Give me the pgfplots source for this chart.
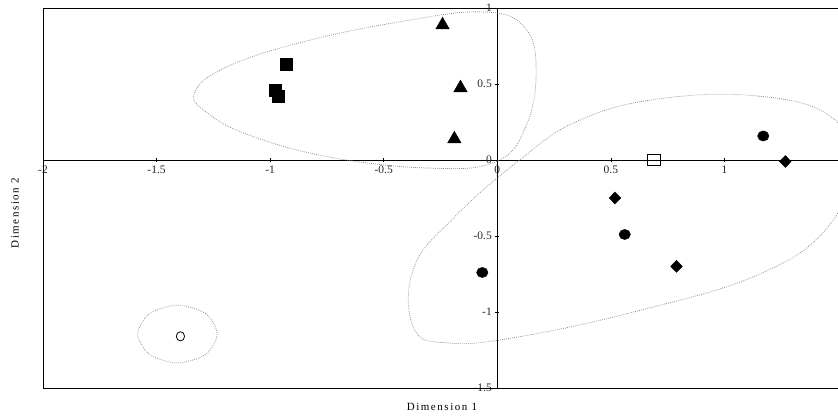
\documentclass[border=0pt]{standalone}
\usepackage{fontspec}
\setmainfont{Liberation Serif}
\usepackage{pgfplots}
\pgfplotsset{compat=1.18}
\usetikzlibrary{calc}
\definecolor{ell}{HTML}{8A8A8A}

\begin{document}
\begin{tikzpicture}
\begin{axis}[
  scale only axis,
  width=795pt, height=380pt,
  xmin=-2, xmax=1.5, ymin=-1.5, ymax=1,
  axis lines=middle,
  axis line style={-, line width=0.8pt, black},
  xtick={-2,-1.5,-1,-0.5,0,0.5,1},
  ytick={-1.5,-1,-0.5,0,0.5,1},
  hide obscured x ticks=false,
  hide obscured y ticks=false,
  tick style={black, line width=0.5pt},
  major tick length=4pt,
  xticklabel style={font=\fontsize{11.5}{13}\selectfont, color=black!85},
  yticklabel style={font=\fontsize{11.5}{13}\selectfont, color=black!85},
  /pgf/number format/assume math mode=true,
  clip=true,
  every axis plot/.append style={only marks, black},
]
% dotted outlines
\addplot[ell, no marks, smooth cycle, tension=0.7, line width=0.7pt, dash pattern=on 0.8pt off 1.2pt]
  coordinates {(-1.333,0.441) (-1.202,0.605) (-0.873,0.770) (-0.434,0.908) (-0.061,0.974)
  (0.123,0.868) (0.171,0.572) (0.123,0.211) (-0.009,-0.013) (-0.303,-0.053)
  (-0.741,0.020) (-1.092,0.164) (-1.276,0.309)};
\addplot[ell, no marks, smooth cycle, tension=0.7, line width=0.7pt, dash pattern=on 0.8pt off 1.2pt]
  coordinates {(1.465,0.289) (1.145,0.421) (0.706,0.401) (0.355,0.257) (0.092,-0.007)
  (-0.193,-0.382) (-0.368,-0.711) (-0.368,-1.105) (-0.215,-1.204) (0.092,-1.164)
  (0.618,-0.993) (1.145,-0.757) (1.452,-0.447) (1.561,-0.020)};
\addplot[ell, no marks, smooth cycle, line width=0.7pt, dash pattern=on 0.8pt off 1.2pt]
  coordinates {(-1.233,-1.145) (-1.284,-1.011) (-1.408,-0.955) (-1.532,-1.011)
  (-1.583,-1.145) (-1.532,-1.279) (-1.408,-1.335) (-1.284,-1.279)};
% groups
\addplot[mark=triangle*, mark size=7.8pt] coordinates {(-0.241,0.888) (-0.162,0.474) (-0.189,0.138)};
\addplot[mark=square*, mark size=6.2pt] coordinates {(-0.93,0.63) (-0.978,0.46) (-0.965,0.42)};
\addplot[mark=square, mark size=6.3pt, mark options={line width=0.6pt, yscale=0.85}] coordinates {(0.689,0.0)};
\addplot[mark=*, mark size=5.7pt, mark options={yscale=0.9}] coordinates {(1.171,0.158) (0.561,-0.49) (-0.066,-0.74)};
\addplot[mark=diamond*, mark size=6pt, mark options={xscale=1.3}] coordinates {(0.518,-0.25) (0.789,-0.70) (1.268,-0.01)};
\addplot[mark=o, mark size=4.6pt, mark options={line width=0.8pt, xscale=0.9}] coordinates {(-1.395,-1.16)};
\coordinate (bl) at (rel axis cs:0,0);
\coordinate (tr) at (rel axis cs:1,1);
\end{axis}
\draw[line width=0.8pt] (bl) rectangle (tr);
\node[font=\fontsize{11}{13}\selectfont\addfontfeature{LetterSpace=14}, anchor=center] at ($(bl)+(399pt,-19pt)$) {Dimension 1};
\node[font=\fontsize{11}{13}\selectfont\addfontfeature{LetterSpace=14}, rotate=90, anchor=center] at ($(bl)+(-28pt,175pt)$) {Dimension 2};
\pgfresetboundingbox
\path ($(bl)+(-43pt,-28pt)$) rectangle ($(tr)+(0pt,8pt)$);
\end{tikzpicture}
\end{document}
